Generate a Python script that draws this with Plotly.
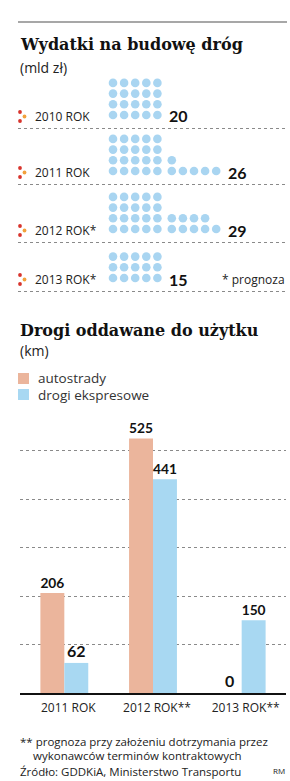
import math
import plotly.graph_objects as go

W, H = 290, 781

# ---------------- DATA ----------------
spend_years = ["2010 ROK", "2011 ROK", "2012 ROK*", "2013 ROK*"]
spend_values = [20, 26, 29, 15]          # mld zł, one dot = 1 mld zł

road_years = ["2011 ROK", "2012 ROK**", "2013 ROK**"]
motorways = [206, 525, 0]                # km, autostrady
expressways = [62, 441, 150]             # km, drogi ekspresowe

# ---------------- STYLE ----------------
SANS = "'Open Sans', Lato, sans-serif"
BOLD = "Lato, 'Open Sans', sans-serif"
SERIF = "'DejaVu Serif', serif"
DOT_BLUE = "#a9d5f1"
SALMON = "#ebb59c"
BAR_BLUE = "#a8d8f2"
TXT = "#222222"

def P(x, y):
    return x / W, 1 - y / H

annotations = []
shapes = []
traces = []

def text(x, y, s, size=13, color=TXT, family=SANS, weight="normal", xanchor="left", yanchor="middle"):
    px, py = P(x, y)
    annotations.append(dict(x=px, y=py, xref="paper", yref="paper", text=s, showarrow=False,
                            xanchor=xanchor, yanchor=yanchor,
                            font=dict(size=size, color=color, family=family, weight=weight)))

# top rule
shapes.append(dict(type="line", xref="x", yref="y", x0=18, x1=287, y0=22, y1=22,
                   line=dict(color="#8a8a8a", width=1.5)))

text(18, 45, "Wydatki na budowę dróg", size=16, color="#111", family=SERIF, weight="bold")
text(18, 68, "(mld zł)", size=14)

# ---------------- PICTOGRAPH ----------------
row_base = [115, 171, 229, 278]   # pixel y of bottom dot row for each year
X0, STEP, GROUP_GAP, ROW_STEP = 113, 11.1, 3.3, 10.7

dx, dy = [], []
for yr, v, yb in zip(spend_years, spend_values, row_base):
    n1 = min(v, 20)
    n2 = max(v - 20, 0)
    for i in range(n1):
        r, c = divmod(i, 5)
        dx.append(X0 + STEP * c); dy.append(yb - ROW_STEP * r)
    for i in range(n2):
        r, c = divmod(i, 5)
        dx.append(X0 + STEP * (c + 5) + GROUP_GAP); dy.append(yb - ROW_STEP * r)
    if n2 > 0:
        last_x = X0 + STEP * (min(n2, 5) - 1 + 5) + GROUP_GAP
    else:
        last_x = X0 + STEP * 4
    text(last_x + 10, yb + 1, str(v), size=16, color="#111", family=BOLD, weight="bold")
    text(33, yb + 1.5, yr, size=12)
    traces.append(go.Scatter(x=[20, 20, 24.5], y=[yb - 3, yb + 6, yb + 1.5], mode="markers",
                             marker=dict(size=3.8, color=["#d8342c", "#d8342c", "#f2a13c"]),
                             xaxis="x", yaxis="y", hoverinfo="skip", showlegend=False))
    shapes.append(dict(type="line", xref="x", yref="y", x0=18, x1=287, y0=yb + 13.5, y1=yb + 13.5,
                       line=dict(color="#8a8a8a", width=1, dash="dot")))

traces.insert(0, go.Scatter(x=dx, y=dy, mode="markers", marker=dict(size=8.6, color=DOT_BLUE),
                            xaxis="x", yaxis="y", hoverinfo="skip", showlegend=False))

text(287, 279.5, "* prognoza", size=12, xanchor="right")

# ---------------- BAR CHART ----------------
text(18, 330, "Drogi oddawane do użytku", size=16, color="#111", family=SERIF, weight="bold")
text(18, 351, "(km)", size=14)

shapes.append(dict(type="rect", xref="x", yref="y", x0=18, x1=29, y0=373, y1=384,
                   fillcolor=SALMON, line=dict(width=0)))
shapes.append(dict(type="rect", xref="x", yref="y", x0=18, x1=29, y0=389, y1=400,
                   fillcolor=BAR_BLUE, line=dict(width=0)))
text(36, 378, "autostrady", size=13.5, color="#333")
text(36, 394.5, "drogi ekspresowe", size=13.5, color="#333")

label_font = dict(size=16, color="#111", family=BOLD, weight="bold")
traces.append(go.Bar(x=road_years, y=motorways, name="autostrady", marker=dict(color=SALMON, line=dict(width=0)),
                     text=[str(v) for v in motorways], textposition="outside", textfont=label_font,
                     cliponaxis=False, xaxis="x2", yaxis="y2", showlegend=False))
traces.append(go.Bar(x=road_years, y=expressways, name="drogi ekspresowe", marker=dict(color=BAR_BLUE, line=dict(width=0)),
                     text=[str(v) for v in expressways], textposition="outside", textfont=label_font,
                     cliponaxis=False, xaxis="x2", yaxis="y2", showlegend=False))

# footnotes
text(18, 741, "** prognoza przy założeniu dotrzymania przez", size=11.5)
text(31, 755.5, "wykonawców terminów kontraktowych", size=11.5)
text(18, 771, "Źródło: GDDKiA, Ministerstwo Transportu", size=11.5)
text(287, 770, "RM", size=8, xanchor="right")

fig = go.Figure(traces)
fig.update_layout(
    width=W, height=H, margin=dict(l=0, r=0, t=0, b=0),
    paper_bgcolor="white", plot_bgcolor="rgba(0,0,0,0)",
    showlegend=False, barmode="group", bargap=0.46, bargroupgap=0,
    xaxis=dict(domain=[0, 1], range=[0, W], visible=False, fixedrange=True),
    yaxis=dict(domain=[0, 1], range=[H, 0], visible=False, fixedrange=True),
    xaxis2=dict(domain=[20 / W, 286 / W], anchor="y2", type="category",
                showline=True, linecolor="#111", linewidth=2, ticks="",
                showgrid=False, tickfont=dict(size=12, color=TXT, family=SANS),
                ticklabelshift=4, ticklabelstandoff=3, fixedrange=True),
    yaxis2=dict(domain=[1 - 693 / H, 1 - 403 / H], anchor="x2", range=[0, 598],
                showgrid=True, griddash="dot", gridcolor="#8a8a8a", gridwidth=1,
                dtick=100, showticklabels=False, zeroline=False, ticks="", fixedrange=True),
    annotations=annotations, shapes=shapes,
)
fig.write_html("out.html")
